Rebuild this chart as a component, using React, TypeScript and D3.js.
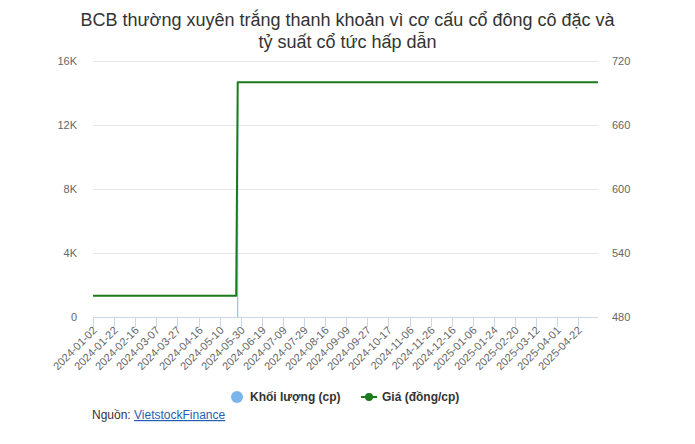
import { useEffect, useRef } from "react";
import * as d3 from "d3";

// trading-day labels shown on the category axis (one every 14 sessions)
const tickLabels = [
  "2024-01-02", "2024-01-22", "2024-02-16", "2024-03-07", "2024-03-27", "2024-04-16",
  "2024-05-10", "2024-05-30", "2024-06-19", "2024-07-09", "2024-07-29", "2024-08-16",
  "2024-09-09", "2024-09-27", "2024-10-17", "2024-11-06", "2024-11-26", "2024-12-16",
  "2025-01-06", "2025-01-24", "2025-02-20", "2025-03-12", "2025-04-01", "2025-04-22",
];
const tickStep = 14;
const lastSession = 335;

// price (dong/share) by session index
const priceSessions = [0, 95, 96, 335];
const priceValues = [500, 500, 700, 700];

// volume (shares) by session index, only one traded session
const volumeSessions = [96];
const volumeValues = [13400];

const volumeTicks = [0, 4000, 8000, 12000, 16000];
const priceTicks = [480, 540, 600, 660, 720];

const FONT = "'Liberation Sans', Arial, sans-serif";

export default function App() {
  const svgRef = useRef<SVGSVGElement | null>(null);

  useEffect(() => {
    if (!svgRef.current) return;
    const svg = d3.select(svgRef.current);
    svg.selectAll("*").remove();

    const width = 695;
    const height = 444;
    const left = 93;
    const right = 598;
    const top = 61;
    const bottom = 317;

    svg.attr("viewBox", `0 0 ${width} ${height}`).style("font-family", FONT);
    svg.append("rect").attr("width", width).attr("height", height).attr("fill", "#fff");

    const x = d3.scaleLinear().domain([0, lastSession]).range([left, right]);
    const yVol = d3.scaleLinear().domain([0, 16000]).range([bottom, top]);
    const yPrice = d3.scaleLinear().domain([480, 720]).range([bottom, top]);

    // title
    const title = svg
      .append("text")
      .attr("text-anchor", "middle")
      .attr("fill", "#333")
      .style("font-size", "18px");
    title.append("tspan").attr("x", width / 2).attr("y", 26).text("BCB thường xuyên trắng thanh khoản vì cơ cấu cổ đông cô đặc và");
    title.append("tspan").attr("x", width / 2).attr("y", 48).text("tỷ suất cổ tức hấp dẫn");

    // grid
    svg
      .append("g")
      .selectAll("line")
      .data(volumeTicks.slice(1))
      .join("line")
      .attr("x1", left)
      .attr("x2", right)
      .attr("y1", (d) => yVol(d) + 0.5)
      .attr("y2", (d) => yVol(d) + 0.5)
      .attr("stroke", "#e6e6e6");

    // left axis labels
    svg
      .append("g")
      .selectAll("text")
      .data(volumeTicks)
      .join("text")
      .attr("x", 77)
      .attr("y", (d) => yVol(d) + 4)
      .attr("text-anchor", "end")
      .attr("fill", "#666")
      .style("font-size", "11px")
      .text((d) => (d === 0 ? "0" : `${d / 1000}K`));

    // right axis labels
    svg
      .append("g")
      .selectAll("text")
      .data(priceTicks)
      .join("text")
      .attr("x", 612)
      .attr("y", (d) => yPrice(d) + 4)
      .attr("fill", "#666")
      .style("font-size", "11px")
      .text((d) => String(d));

    // volume bars
    svg
      .append("g")
      .selectAll("rect")
      .data(volumeSessions)
      .join("rect")
      .attr("x", (d) => x(d) - 0.5)
      .attr("y", (_, i) => yVol(volumeValues[i]))
      .attr("width", 1)
      .attr("height", (_, i) => bottom - yVol(volumeValues[i]))
      .attr("fill", "#7cb5ec");

    // x axis
    const axis = svg.append("g");
    axis
      .append("line")
      .attr("x1", left)
      .attr("x2", right)
      .attr("y1", bottom + 0.5)
      .attr("y2", bottom + 0.5)
      .attr("stroke", "#ccd6eb");
    const ticks = axis
      .selectAll("g.tick")
      .data(tickLabels)
      .join("g")
      .attr("class", "tick")
      .attr("transform", (_, i) => `translate(${Math.round(x(i * tickStep)) + 0.5},${bottom})`);
    ticks.append("line").attr("y1", 0).attr("y2", 10).attr("stroke", "#ccd6eb");
    ticks
      .append("text")
      .attr("transform", "translate(4,14) rotate(-45)")
      .attr("text-anchor", "end")
      .attr("fill", "#666")
      .style("font-size", "11px")
      .text((d) => d);

    // price line
    const line = d3
      .line<number>()
      .x((d) => x(d))
      .y((_, i) => yPrice(priceValues[i]));
    svg
      .append("path")
      .datum(priceSessions)
      .attr("d", line)
      .attr("fill", "none")
      .attr("stroke", "#1b7a1b")
      .attr("stroke-width", 2)
      .attr("stroke-linejoin", "round");

    // legend
    const legend = svg.append("g").style("font-size", "12px").style("font-weight", "bold");
    legend.append("circle").attr("cx", 237).attr("cy", 397).attr("r", 6).attr("fill", "#7cb5ec");
    legend.append("text").attr("x", 250).attr("y", 401).attr("fill", "#333").text("Khối lượng (cp)");
    legend.append("line").attr("x1", 361).attr("x2", 377).attr("y1", 397).attr("y2", 397).attr("stroke", "#1b7a1b").attr("stroke-width", 2);
    legend.append("circle").attr("cx", 369).attr("cy", 397).attr("r", 4).attr("fill", "#1b7a1b");
    legend.append("text").attr("x", 382).attr("y", 401).attr("fill", "#333").text("Giá (đồng/cp)");

    // source
    const source = svg.append("text").attr("x", 92).attr("y", 419).style("font-size", "12px").attr("fill", "#333");
    source.append("tspan").text("Nguồn: ");
    source.append("tspan").attr("fill", "#1f5fb4").attr("text-decoration", "underline").text("VietstockFinance");
  }, []);

  return (
    <div style={{ position: "absolute", left: 0, top: 0 }}>
      <svg ref={svgRef} width={695} height={444} style={{ display: "block" }} />
    </div>
  );
}
